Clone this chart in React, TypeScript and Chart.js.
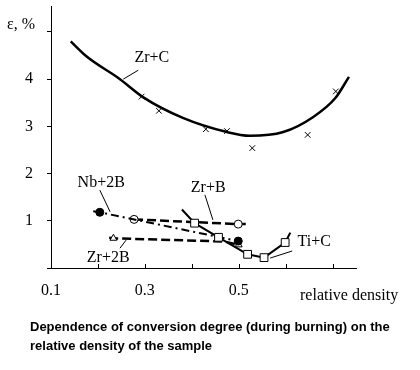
import React, { useEffect, useRef } from "react";
import { Chart, registerables } from "chart.js";

Chart.register(...registerables);

// ---- axis / tick labels ----
const xLabeledTicks = [0.1, 0.3, 0.5];
const yLabeledTicks = [1, 2, 3, 4];
const xAxisTitle = "relative density";
const yAxisTitle = "ε, %";
const captionLines = [
  "Dependence of conversion degree (during burning) on the",
  "relative density of the sample",
];

// ---- Zr+C fitted curve ----
const zrCCurveX = [0.142, 0.176, 0.247, 0.296, 0.381, 0.475, 0.524, 0.595, 0.659, 0.706, 0.735];
const zrCCurveY = [4.8, 4.48, 4.0, 3.62, 3.18, 2.88, 2.8, 2.88, 3.2, 3.6, 4.05];
// ---- Zr+C measured points (crosses) ----
const zrCPointsX = [0.293, 0.33, 0.43, 0.475, 0.529, 0.647, 0.707];
const zrCPointsY = [3.63, 3.33, 2.94, 2.9, 2.54, 2.82, 3.74];

// ---- Nb+2B (filled circles, dash-dot) ----
const nb2bX = [0.19, 0.204, 0.499, 0.512];
const nb2bY = [1.2, 1.18, 0.57, 0.55];
const nb2bMarked = [false, true, true, false];

// ---- Zr+B (open circles, dashed) ----
const zrBX = [0.277, 0.499, 0.515];
const zrBY = [1.03, 0.93, 0.93];
const zrBMarked = [true, true, false];

// ---- Zr+2B (open triangles, dashed) ----
const zr2bX = [0.224, 0.233, 0.47, 0.5];
const zr2bY = [0.64, 0.63, 0.56, 0.49];
const zr2bMarked = [false, true, false, true];

// ---- Ti+C (open squares, solid) ----
const tiCX = [0.379, 0.406, 0.457, 0.519, 0.554, 0.599, 0.61];
const tiCY = [1.24, 0.95, 0.65, 0.29, 0.22, 0.54, 0.75];
const tiCMarked = [false, true, true, true, true, true, false];

// ---- series name annotations (data coordinates) ----
const annText = ["Zr+C", "Nb+2B", "Zr+B", "Zr+2B", "Ti+C"];
const annX = [0.315, 0.207, 0.435, 0.222, 0.661];
const annY = [4.45, 1.8, 1.69, 0.21, 0.55];
const leaderX1 = [0.286, 0.204, 0.428, 0.247, 0.567];
const leaderY1 = [4.19, 1.65, 1.55, 0.42, 0.21];
const leaderX2 = [0.254, 0.226, 0.445, 0.26, 0.614];
const leaderY2 = [4.0, 1.19, 1.02, 0.59, 0.36];

const pts = (xs: number[], ys: number[]) => xs.map((x, i) => ({ x, y: ys[i] }));
const radii = (m: boolean[], r: number) => m.map((b) => (b ? r : 0));

const SERIF = '"Liberation Serif"';

const annotationPlugin = {
  id: "annotations",
  afterDraw(chart: any) {
    const ctx = chart.ctx;
    const xs = chart.scales.x;
    const ys = chart.scales.y;
    ctx.save();
    // inward x tick marks
    ctx.strokeStyle = "#000";
    ctx.lineWidth = 1;
    xs.ticks.forEach((t: any) => {
      if (t.value <= 0.1001) return;
      const px = Math.round(xs.getPixelForValue(t.value)) + 0.5;
      ctx.beginPath();
      ctx.moveTo(px, ys.bottom);
      ctx.lineTo(px, ys.bottom - 4);
      ctx.stroke();
    });
    // series labels + leaders
    ctx.fillStyle = "#000";
    ctx.font = "16px " + SERIF;
    ctx.textAlign = "center";
    ctx.textBaseline = "middle";
    annText.forEach((txt, i) => {
      ctx.fillText(txt, xs.getPixelForValue(annX[i]), ys.getPixelForValue(annY[i]));
      ctx.beginPath();
      ctx.moveTo(xs.getPixelForValue(leaderX1[i]), ys.getPixelForValue(leaderY1[i]));
      ctx.lineTo(xs.getPixelForValue(leaderX2[i]), ys.getPixelForValue(leaderY2[i]));
      ctx.stroke();
    });
    // axis titles
    ctx.textAlign = "left";
    ctx.fillText(yAxisTitle, 7, 25);
    ctx.fillText(xAxisTitle, 300, 296);
    // caption
    ctx.font = 'bold 13px "Liberation Sans"';
    captionLines.forEach((line, i) => ctx.fillText(line, 30, 327 + i * 19));
    ctx.restore();
  },
};

export default function App() {
  const ref = useRef<HTMLCanvasElement | null>(null);
  useEffect(() => {
    if (!ref.current) return;
    const chart = new Chart(ref.current, {
      type: "line",
      data: {
        datasets: [
          {
            label: "Ti+C",
            data: pts(tiCX, tiCY),
            borderColor: "#000",
            borderWidth: 2,
            pointStyle: "rect",
            pointRadius: radii(tiCMarked, 5.5),
            pointBackgroundColor: "#fff",
            pointBorderColor: "#000",
            pointBorderWidth: 1,
            tension: 0,
          },
          {
            label: "Nb+2B",
            data: pts(nb2bX, nb2bY),
            borderColor: "#000",
            borderWidth: 2,
            borderDash: [8, 4, 2, 4],
            pointStyle: "circle",
            pointRadius: radii(nb2bMarked, 4),
            pointBackgroundColor: "#000",
            pointBorderColor: "#000",
            pointBorderWidth: 1,
          },
          {
            label: "Zr+B",
            data: pts(zrBX, zrBY),
            borderColor: "#000",
            borderWidth: 2.5,
            borderDash: [9, 4],
            pointStyle: "circle",
            pointRadius: radii(zrBMarked, 4),
            pointBackgroundColor: "#fff",
            pointBorderColor: "#000",
            pointBorderWidth: 1,
          },
          {
            label: "Zr+2B",
            data: pts(zr2bX, zr2bY),
            borderColor: "#000",
            borderWidth: 2.5,
            borderDash: [9, 4],
            pointStyle: "triangle",
            pointRadius: radii(zr2bMarked, 4),
            pointBackgroundColor: "#fff",
            pointBorderColor: "#000",
            pointBorderWidth: 1,
          },
          {
            label: "Zr+C points",
            data: pts(zrCPointsX, zrCPointsY),
            showLine: false,
            borderColor: "#000",
            pointStyle: "crossRot",
            pointRadius: 4,
            pointBorderColor: "#000",
            pointBorderWidth: 1,
          },
          {
            label: "Zr+C",
            data: pts(zrCCurveX, zrCCurveY),
            borderColor: "#000",
            borderWidth: 2.5,
            pointRadius: 0,
            cubicInterpolationMode: "monotone",
          },
        ],
      },
      options: {
        animation: false,
        responsive: true,
        maintainAspectRatio: false,
        layout: { padding: { left: 0, right: 64, top: 6, bottom: 0 } },
        plugins: {
          legend: { display: false },
          tooltip: { enabled: false },
          title: { display: false },
        },
        scales: {
          x: {
            type: "linear",
            min: 0.1,
            max: 0.75,
            afterFit: (s: any) => {
              s.height = 102;
              s.paddingLeft = 0;
              s.paddingRight = 0;
            },
            grid: { display: false },
            border: { display: true, color: "#000", width: 1 },
            ticks: {
              stepSize: 0.1,
              includeBounds: false,
              autoSkip: false,
              maxRotation: 0,
              padding: 5,
              color: "#000",
              font: { family: "Liberation Serif", size: 16 },
              callback: (v: any) => {
                const n = Number(v);
                return xLabeledTicks.some((t) => Math.abs(t - n) < 1e-6) ? n.toFixed(1) : "";
              },
            },
          },
          y: {
            type: "linear",
            min: 0,
            max: 5.55,
            afterFit: (s: any) => {
              s.width = 51;
              s.paddingTop = 0;
              s.paddingBottom = 0;
            },
            grid: { display: true, drawOnChartArea: false, drawTicks: true, tickLength: 4, color: "#000" },
            border: { display: true, color: "#000", width: 1 },
            ticks: {
              stepSize: 1,
              includeBounds: false,
              autoSkip: false,
              padding: 14,
              color: "#000",
              font: { family: "Liberation Serif", size: 16 },
              callback: (v: any) => {
                const n = Number(v);
                return yLabeledTicks.some((t) => Math.abs(t - n) < 1e-6) ? String(n) : "";
              },
            },
          },
        },
      },
      plugins: [annotationPlugin],
    } as any);
    return () => chart.destroy();
  }, []);
  return (
    <div style={{ position: "fixed", left: 0, top: 0, width: 420, height: 370, background: "#fff" }}>
      <canvas ref={ref} />
    </div>
  );
}
